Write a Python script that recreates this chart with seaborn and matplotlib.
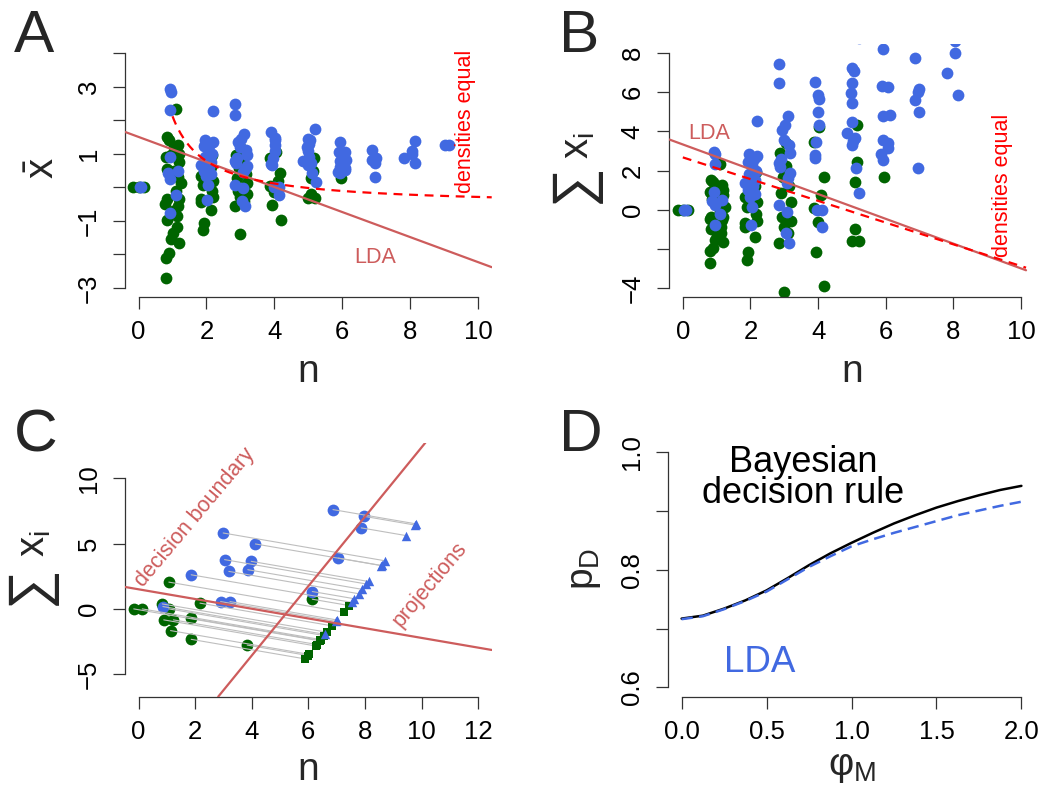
import numpy as np
import matplotlib
matplotlib.use("Agg")
import matplotlib.pyplot as plt
import seaborn as sns

# ---------------------------------------------------------------- data
# simulated trials: integer count n, jittered plotting position, sum of x_i
BLUE_N = [0, 0,
          1, 1, 1, 1, 1, 1, 1, 1, 1,
          2, 2, 2, 2, 2, 2, 2, 2, 2, 2, 2, 2, 2, 2, 2, 2,
          3, 3, 3, 3, 3, 3, 3, 3, 3, 3, 3, 3, 3, 3, 3, 3, 3, 3,
          4, 4, 4, 4, 4, 4, 4, 4, 4, 4, 4,
          5, 5, 5, 5, 5, 5, 5, 5, 5, 5, 5, 5, 5,
          6, 6, 6, 6, 6, 6, 6, 6, 6, 6,
          7, 7, 7, 7, 7, 7,
          8, 8, 8, 8, 8,
          9, 9]
BLUE_JIT = [0.08, 0.04,
            0.92, 0.96, 0.94, 0.92, 0.87, 1.17, 0.94, 1.09, 0.94,
            2.19, 1.97, 2.18, 2.10, 1.92, 2.05, 2.15, 1.95, 2.12, 1.84, 2.08, 1.93, 2.14, 2.00, 2.05, 2.02,
            2.84, 2.84, 3.11, 3.03, 2.93, 3.00, 3.18, 2.84, 2.86, 3.18, 3.12, 3.08, 2.84, 3.08, 3.05, 3.14, 3.15, 2.90,
            3.90, 4.01, 4.03, 4.01, 4.03, 3.95, 3.90, 3.92, 3.98, 4.13, 4.13,
            5.21, 4.99, 5.06, 5.01, 4.97, 5.00, 5.01, 4.85, 5.09, 5.03, 5.00, 5.12, 5.22,
            5.93, 5.90, 6.07, 5.93, 6.12, 5.93, 6.07, 6.07, 5.86, 5.93,
            6.88, 6.99, 6.95, 6.88, 6.97, 6.95,
            8.15, 8.05, 8.04, 7.81, 8.14,
            9.03, 9.13]
BLUE_SUM = [0.0, 0.0,
            2.93, 2.83, 2.31, 0.90, 0.42, 0.50, 0.26, -0.24, -0.77,
            4.54, 2.82, 2.72, 2.60, 2.45, 2.30, 2.00, 1.80, 1.50, 1.35, 1.20, 1.00, 0.80, 0.66, 0.16, -0.76,
            7.43, 6.45, 4.78, 4.32, 4.07, 3.56, 2.88, 2.37, 2.19, 1.86, 1.60, 1.35, 0.24, -0.10, -1.20, -1.68, 3.30, 2.60,
            6.53, 5.85, 5.63, 5.00, 4.32, 3.47, 2.79, 2.62, 0.00, 0.00, -0.90,
            8.75, 7.21, 7.10, 6.45, 5.94, 5.46, 4.49, 3.93, 3.64, 3.50, 3.30, 2.11, 0.84,
            8.18, 6.31, 6.24, 4.78, 4.85, 3.56, 3.39, 3.13, 2.82, 2.53,
            7.72, 6.15, 6.00, 5.60, 5.00, 2.11,
            10.96, 8.60, 8.01, 6.96, 5.84,
            11.25, 11.25]

GREEN_N = [0, 0, 0,
           1, 1, 1, 1, 1, 1, 1, 1, 1, 1, 1, 1, 1, 1, 1, 1, 1, 1, 1, 1, 1, 1, 1, 1, 1, 1, 1, 1,
           2, 2, 2, 2, 2, 2, 2, 2, 2, 2, 2, 2, 2,
           3, 3, 3, 3, 3, 3, 3, 3, 3, 3, 3, 3, 3,
           4, 4, 4, 4, 4, 4, 4, 4,
           5, 5, 5, 5, 5, 5,
           6]
GREEN_JIT = [-0.15, 0.15, 0.00,
             0.84, 1.11, 0.89, 1.17, 1.05, 0.80, 1.19, 0.95, 1.24, 1.15, 0.85, 0.79, 0.84, 1.20,
             1.10, 1.15, 0.84, 1.14, 1.12, 1.02, 0.95, 1.19, 0.90, 0.80, 0.81, 1.00, 1.05, 1.20,
             2.15, 2.12, 2.05, 1.83, 2.20, 1.90, 2.15, 2.18, 1.83, 1.85, 2.12, 1.93, 1.90,
             2.86, 3.05, 2.95, 2.90, 3.20, 2.92, 2.98, 3.20, 2.85, 2.98, 3.10, 3.15, 3.05,
             4.04, 3.87, 4.17, 4.10, 3.87, 3.99, 3.94, 4.18,
             5.16, 5.15, 5.09, 5.08, 4.99, 5.20,
             5.95]
GREEN_SUM = [0.0, 0.0, 0.0,
             1.49, 2.33, 1.42, 1.27, 1.20, 0.90, 0.75, 0.95, 0.12, 0.30, 0.55, -0.50, -0.35, -0.35,
             -0.10, -0.55, -0.97, -0.87, -1.17, -1.37, -1.55, -1.67, -1.97, -2.11, -2.71, -0.70, 0.50, 1.00,
             1.90, 1.20, 1.00, 0.66, 0.40, 0.14, -0.20, -0.60, -0.70, -0.90, -1.38, -2.14, -2.56,
             2.88, 3.42, 1.68, 0.84, 0.40, -0.36, -0.87, -0.60, -1.71, -4.18, -1.20, 1.20, 2.25,
             4.20, 3.47, 1.68, 0.75, 0.10, -0.61, -2.14, -3.88,
             4.30, 2.45, 1.40, -0.97, -1.60, -1.60,
             1.65]

# boundaries
LDA_A_INTERCEPT, LDA_A_SLOPE = 1.50, -0.373      # LDA line in the (n, mean x) plane
LDA_B_INTERCEPT, LDA_B_SLOPE = 3.33, -0.633      # LDA line in the (n, sum x) plane
EQ_INTERCEPT, EQ_SLOPE = 2.67, -0.555            # equal-density boundary, (n, sum x) plane

# panel C: small sample and its projections
C_BLUE_N = [6.87, 7.96, 7.87, 2.99, 4.13, 7.06, 3.04, 3.98, 3.19, 3.86, 1.86, 6.14, 2.90, 3.23, 0.86]
C_BLUE_S = [7.60, 7.09, 6.20, 5.81, 4.97, 3.89, 3.77, 3.64, 2.87, 3.00, 2.61, 1.33, 0.56, 0.56, 0.18]
C_GREEN_N = [1.07, 6.14, 2.17, 0.84, -0.17, 0.13, 1.07, 0.89, 1.23, 1.86, 1.13, 1.86, 3.84]
C_GREEN_S = [2.05, 0.74, 0.44, 0.38, 0.00, 0.00, 0.00, -0.84, -0.84, -0.72, -1.66, -2.33, -2.77]
C_PROJ_INTERCEPT, C_PROJ_SLOPE = 1.50, -0.372    # projection direction line
C_DEC_INTERCEPT, C_DEC_SLOPE = -14.19, 2.655     # decision boundary
C_TARGET_INTERCEPT = -19.48                      # line the points are projected onto

# panel D: probability of correct decision vs phi_M
PHI = [0.0, 0.125, 0.25, 0.375, 0.5, 0.625, 0.75, 0.875, 1.0,
       1.125, 1.25, 1.375, 1.5, 1.625, 1.75, 1.875, 2.0]
P_BAYES = [0.717, 0.722, 0.734, 0.748, 0.765, 0.786, 0.808, 0.828, 0.846,
           0.863, 0.879, 0.893, 0.906, 0.917, 0.927, 0.936, 0.943]
P_LDA = [0.716, 0.721, 0.733, 0.747, 0.763, 0.784, 0.805, 0.823, 0.840,
         0.852, 0.863, 0.873, 0.883, 0.893, 0.901, 0.909, 0.916]

# ---------------------------------------------------------------- style
sns.set_theme(style="ticks")
plt.rcParams["font.family"] = ["Liberation Sans", "DejaVu Sans"]
plt.rcParams["mathtext.fontset"] = "custom"
plt.rcParams["mathtext.rm"] = "Liberation Sans"
plt.rcParams["mathtext.it"] = "Liberation Sans"
plt.rcParams["mathtext.sf"] = "Liberation Sans"
plt.rcParams["mathtext.bf"] = "Liberation Sans:bold"

GREEN = "#006400"
BLUE = "#4169E1"
IRED = "#CD5C5C"
RED = "#FF0000"
AXC = "#333333"

W, H = 1048, 787
fig = plt.figure(figsize=(W / 100, H / 100), dpi=100)
fig.patch.set_facecolor("white")


def add_ax(l, r, t, b):
    return fig.add_axes([l / W, 1 - b / H, (r - l) / W, (b - t) / H])


def ftext(X, Y, s, **kw):
    return fig.text(X / W, 1 - Y / H, s, **kw)


def r_axes(ax, xlim, ylim, xt, yt, xl, yl):
    ax.set_xlim(xlim)
    ax.set_ylim(ylim)
    ax.set_facecolor("none")
    ax.grid(False)
    for s in ["top", "right"]:
        ax.spines[s].set_visible(False)
    for s in ["left", "bottom"]:
        ax.spines[s].set_color(AXC)
        ax.spines[s].set_linewidth(0.9)
    ax.spines["left"].set_bounds(yt[0], yt[-1])
    ax.spines["bottom"].set_bounds(xt[0], xt[-1])
    ax.set_xticks(xt)
    ax.set_xticklabels(xl)
    ax.set_yticks(yt)
    ax.set_yticklabels(yl, rotation=90, va="center")
    ax.tick_params(axis="both", length=8.6, width=0.9, color=AXC,
                   labelsize=18.5, labelcolor="black")
    ax.tick_params(axis="x", pad=8)
    ax.tick_params(axis="y", pad=9)
    ax.set_xlabel("")
    ax.set_ylabel("")


def sum_label(Xs, Ys, Xx, Yx):
    # rotated "sum x_i" label: large summation sign plus x with subscript
    ftext(Xs, Ys, "∑", fontsize=40, rotation=90, ha="center", va="center")
    ftext(Xx, Yx, r"$\mathrm{x}_\mathrm{i}$", fontsize=29, rotation=90,
          ha="center", va="center")


bn = np.array(BLUE_N, float)
bj = np.array(BLUE_JIT)
bs = np.array(BLUE_SUM)
gn = np.array(GREEN_N, float)
gj = np.array(GREEN_JIT)
gs = np.array(GREEN_SUM)
b_mean = np.divide(bs, bn, out=np.zeros_like(bs), where=bn > 0)
g_mean = np.divide(gs, gn, out=np.zeros_like(gs), where=gn > 0)

PT = 72

# ---------------------------------------------------------------- A
axA = add_ax(125, 491.7, 43.6, 297.4)
sns.scatterplot(x=gj, y=g_mean, ax=axA, color=GREEN, s=PT, linewidth=0, zorder=2)
sns.scatterplot(x=bj, y=b_mean, ax=axA, color=BLUE, s=PT, linewidth=0, zorder=3)
xx = np.array([-0.4, 10.4])
axA.plot(xx, LDA_A_INTERCEPT + LDA_A_SLOPE * xx, color=IRED, lw=1.6, zorder=4)
nn = np.linspace(1, 10.4, 200)
axA.plot(nn, (EQ_INTERCEPT + EQ_SLOPE * nn) / nn, color=RED, lw=1.6,
         dashes=(4, 3), zorder=4)
r_axes(axA, (-0.4, 10.4), (-3.28, 4.28), [0, 2, 4, 6, 8, 10], list(range(-3, 5)),
       ["0", "2", "4", "6", "8", "10"],
       ["−3", "", "−1", "", "1", "", "3", ""])
ftext(375, 263.3, "LDA", color=IRED, fontsize=15.5, ha="center", va="baseline")
ftext(465, 121, "densities equal", color=RED, fontsize=15.5, rotation=90,
      ha="center", va="center")

# ---------------------------------------------------------------- B
axB = add_ax(669.3, 1034.5, 43.6, 297.4)
sns.scatterplot(x=gj, y=gs, ax=axB, color=GREEN, s=PT, linewidth=0, zorder=2)
sns.scatterplot(x=bj, y=bs, ax=axB, color=BLUE, s=PT, linewidth=0, zorder=3)
xb = np.array([-0.4, 10.15])
axB.plot(xb, LDA_B_INTERCEPT + LDA_B_SLOPE * xb, color=IRED, lw=1.6, zorder=4)
xe = np.array([0.0, 10.15])
axB.plot(xe, EQ_INTERCEPT + EQ_SLOPE * xe, color=RED, lw=1.6, dashes=(4, 3), zorder=4)
r_axes(axB, (-0.4, 10.4), (-4.48, 8.48), [0, 2, 4, 6, 8, 10], [-4, -2, 0, 2, 4, 6, 8],
       ["0", "2", "4", "6", "8", "10"],
       ["−4", "", "0", "2", "4", "6", "8"])
ftext(709.3, 139.3, "LDA", color=IRED, fontsize=15.5, ha="center", va="baseline")
ftext(1002.7, 185, "densities equal", color=RED, fontsize=15.5, rotation=90,
      ha="center", va="center")

# ---------------------------------------------------------------- C
axC = add_ax(125, 491.7, 442.7, 696.7)
cbn, cbs = np.array(C_BLUE_N), np.array(C_BLUE_S)
cgn, cgs = np.array(C_GREEN_N), np.array(C_GREEN_S)


def project(x0, y0):
    t = (y0 - C_DEC_SLOPE * x0 - C_TARGET_INTERCEPT) / (C_DEC_SLOPE - C_PROJ_SLOPE)
    return x0 + t, y0 + C_PROJ_SLOPE * t


pbx, pby = project(cbn, cbs)
pgx, pgy = project(cgn, cgs)
sns.scatterplot(x=cgn, y=cgs, ax=axC, color=GREEN, s=PT, linewidth=0, zorder=2)
sns.scatterplot(x=cbn, y=cbs, ax=axC, color=BLUE, s=PT, linewidth=0, zorder=2)
for x0, y0, x1, y1 in zip(np.r_[cgn, cbn], np.r_[cgs, cbs], np.r_[pgx, pbx], np.r_[pgy, pby]):
    axC.plot([x0, x1], [y0, y1], color="#BEBEBE", lw=0.8, zorder=3)
sns.scatterplot(x=pgx, y=pgy, ax=axC, color=GREEN, marker="s", s=28, linewidth=0, zorder=4)
sns.scatterplot(x=pbx, y=pby, ax=axC, color=BLUE, marker="^", s=46, linewidth=0, zorder=4)
axC.axline((0, C_PROJ_INTERCEPT), slope=C_PROJ_SLOPE, color=IRED, lw=1.6, zorder=5)
axC.axline((0, C_DEC_INTERCEPT), slope=C_DEC_SLOPE, color=IRED, lw=1.6, zorder=5)
r_axes(axC, (-0.48, 12.48), (-6.72, 12.72), [0, 2, 4, 6, 8, 10, 12], [-5, 0, 5, 10],
       ["0", "2", "4", "6", "8", "10", "12"], ["−5", "0", "5", "10"])
ftext(195, 517.3, "decision boundary", color=IRED, fontsize=15.5, rotation=50,
      rotation_mode="anchor", ha="center", va="center")
ftext(430, 585, "projections", color=IRED, fontsize=15.5, rotation=50,
      rotation_mode="anchor", ha="center", va="center")

# ---------------------------------------------------------------- D
axD = add_ax(668, 1035, 443, 696.7)
sns.lineplot(x=PHI, y=P_BAYES, ax=axD, color="black", lw=1.8)
sns.lineplot(x=PHI, y=P_LDA, ax=axD, color=BLUE, lw=1.8, dashes=False,
             linestyle=(0, (4.5, 2.5)))
r_axes(axD, (-0.08, 2.08), (0.584, 1.016), [0, 0.5, 1.0, 1.5, 2.0],
       [0.6, 0.7, 0.8, 0.9, 1.0],
       ["0.0", "0.5", "1.0", "1.5", "2.0"], ["0.6", "", "0.8", "", "1.0"])
ftext(803, 478, "Bayesian\ndecision rule", color="black", fontsize=26,
      ha="center", va="center", multialignment="center", linespacing=0.88)
ftext(760, 671.7, "LDA", color=BLUE, fontsize=26.5, ha="center", va="baseline")

# ---------------------------------------------------------------- labels
LAB = 28
ftext(308.3, 381.7, "n", fontsize=LAB, ha="center", va="baseline")
ftext(852, 381.7, "n", fontsize=LAB, ha="center", va="baseline")
ftext(308.3, 780, "n", fontsize=LAB, ha="center", va="baseline")
ftext(851.5, 767, r"$\varphi_\mathrm{M}$", fontsize=LAB, ha="center", va="center")
ftext(42.5, 168.3, r"$\bar{\mathrm{x}}$", fontsize=LAB + 1, rotation=90,
      ha="center", va="center")
sum_label(573.5, 183.5, 578, 146)
sum_label(29.5, 585.5, 34, 544)
ftext(585.3, 569, r"$\mathrm{p}_\mathrm{D}$", fontsize=LAB, rotation=90,
      ha="center", va="center")

for X, Y, s in [(34.2, 51.7, "A"), (579.3, 52, "B"), (35.8, 451, "C"), (580.7, 450.7, "D")]:
    ftext(X, Y, s, fontsize=43.5, ha="center", va="baseline")

fig.savefig("out.png", dpi=100)
